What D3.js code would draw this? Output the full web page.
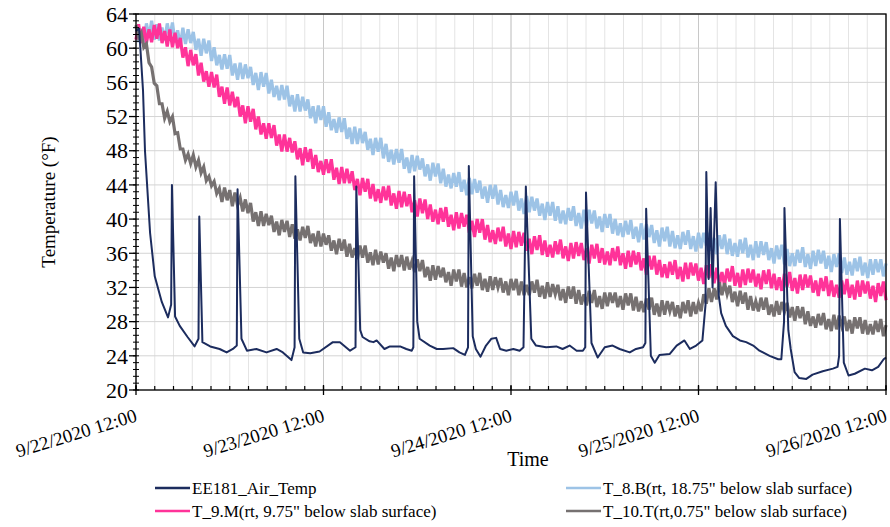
<!DOCTYPE html>
<html>
<head>
<meta charset="utf-8">
<script src="https://cdn.jsdelivr.net/npm/d3@7"></script>
<style>
  body { margin: 0; background: #fff; }
</style>
</head>
<body>
<svg id="chart" width="890" height="527"></svg>
<script>
// time axis: 9/22/2020 12:00 to 9/26/2020 12:00, probe series logged every 20 min
const startTime = new Date(2020, 8, 22, 12, 0);
const endTime = new Date(2020, 8, 26, 12, 0);
const stepMinutes = 20;

const yTicks = [20, 24, 28, 32, 36, 40, 44, 48, 52, 56, 60, 64];

const seriesNames = [
  "EE181_Air_Temp",
  "T_8.B(rt, 18.75\" below slab surface)",
  "T_9.M(rt, 9.75\" below slab surface)",
  "T_10.T(rt,0.75\" below slab surface)"
];

// T_8.B, 18.75" below slab
const t8b = [
  62.6,60.7,62.3,60.6,62.9,61.4,63.2,61.0,62.8,60.9,62.4,
  60.9,62.9,61.3,63.0,60.7,62.1,60.3,62.4,60.5,62.2,60.6,
  61.9,59.8,61.1,59.1,61.1,59.4,60.9,58.5,60.1,58.0,59.2,
  57.5,59.3,57.6,59.2,56.8,58.2,56.3,58.3,56.4,58.1,56.5,
  57.8,55.7,57.1,55.1,57.2,55.5,57.1,54.7,56.3,54.3,55.6,
  53.9,55.7,54.0,55.6,53.2,54.5,52.6,54.6,52.6,54.3,52.7,
  54.0,51.8,53.2,51.2,53.3,51.6,53.2,50.8,52.5,50.4,51.7,
  50.1,51.9,50.2,51.8,49.4,50.7,48.8,50.8,48.8,50.6,48.9,
  50.2,48.1,49.4,47.5,49.5,47.9,49.5,47.1,48.8,46.7,48.1,
  46.4,48.2,46.6,48.2,45.9,47.2,45.4,47.5,45.6,47.4,45.8,
  47.1,45.0,46.4,44.5,46.6,45.0,46.5,44.2,45.9,43.8,45.2,
  43.6,45.4,43.8,45.5,43.2,44.6,42.8,44.8,42.9,44.7,43.1,
  44.5,42.4,43.8,41.9,44.0,42.4,44.0,41.7,43.4,41.4,42.8,
  41.3,43.2,41.6,43.3,41.0,42.4,40.6,42.7,40.8,42.6,41.0,
  42.4,40.4,41.8,39.9,42.0,40.4,42.0,39.8,41.5,39.5,41.0,
  39.4,41.3,39.8,41.5,39.2,40.7,38.9,41.1,39.2,41.1,39.5,
  41.0,38.9,40.3,38.5,40.6,39.0,40.6,38.3,40.0,38.1,39.5,
  37.9,39.8,38.2,39.9,37.7,39.1,37.3,39.5,37.6,39.4,37.9,
  39.3,37.2,38.7,36.8,39.0,37.4,39.1,36.8,38.6,36.6,38.1,
  36.5,38.5,37.0,38.7,36.5,38.0,36.2,38.4,36.6,38.4,36.9,
  38.4,36.3,37.8,35.9,38.1,36.5,38.2,35.9,37.7,35.7,37.2,
  35.6,37.6,36.0,37.8,35.5,37.0,35.2,37.4,35.5,37.4,35.8,
  37.3,35.2,36.6,34.8,36.9,35.3,37.0,34.7,36.5,34.5,36.0,
  34.5,36.4,34.9,36.7,34.4,35.9,34.2,36.3,34.5,36.4,34.8,
  36.3,34.2,35.7,33.8,35.9,34.4,36.0,33.7,35.5,33.5,35.0,
  33.4,35.4,33.9,35.6,33.4,34.9,33.1,35.3,33.5,35.3,33.8,
  35.3,33.3,34.8
];

// T_9.M, 9.75" below slab
const t9m = [
  61.0,62.8,60.6,62.5,60.6,62.2,60.7,62.7,61.1,62.9,60.6,
  62.0,60.2,62.2,60.1,61.8,60.0,61.2,58.9,60.1,57.9,59.8,
  58.0,59.3,56.8,58.3,56.1,57.3,55.5,57.2,55.4,56.9,54.3,
  55.5,53.5,55.4,53.3,54.9,53.1,54.3,52.0,53.3,51.2,53.2,
  51.4,52.9,50.5,52.0,49.9,51.2,49.4,51.2,49.5,51.0,48.6,
  49.9,47.9,49.9,47.9,49.5,47.8,49.1,47.0,48.3,46.3,48.4,
  46.7,48.2,45.9,47.5,45.5,46.8,45.2,47.0,45.4,47.0,44.6,
  46.0,44.1,46.1,44.2,45.9,44.2,45.6,43.4,44.7,42.8,44.8,
  43.2,44.7,42.4,44.1,42.1,43.5,41.9,43.8,42.2,43.9,41.6,
  43.0,41.2,43.3,41.4,43.2,41.5,42.9,40.8,42.2,40.3,42.4,
  40.7,42.3,40.0,41.7,39.7,41.1,39.4,41.3,39.7,41.4,39.1,
  40.5,38.7,40.8,38.9,40.7,39.1,40.5,38.4,39.8,37.9,40.0,
  38.4,40.0,37.6,39.3,37.3,38.7,37.1,39.0,37.4,39.1,36.8,
  38.3,36.5,38.6,36.7,38.5,36.9,38.4,36.3,37.7,35.9,38.0,
  36.4,38.1,35.8,37.5,35.6,37.0,35.5,37.4,35.9,37.6,35.4,
  36.8,35.1,37.2,35.4,37.3,35.7,37.2,35.2,36.6,34.8,37.0,
  35.4,37.1,34.9,36.6,34.7,36.2,34.6,36.6,35.1,36.8,34.6,
  36.0,34.2,36.3,34.4,36.3,34.7,36.1,34.0,35.4,33.5,35.7,
  34.1,35.7,33.5,35.2,33.2,34.7,33.1,35.0,33.5,35.2,33.0,
  34.4,32.7,34.9,33.0,34.9,33.4,34.8,32.8,34.3,32.4,34.6,
  33.1,34.7,32.5,34.3,32.3,33.8,32.3,34.2,32.7,34.5,32.2,
  33.7,32.0,34.1,32.3,34.2,32.6,34.1,32.1,33.6,31.8,34.0,
  32.4,34.1,31.9,33.6,31.7,33.2,31.6,33.6,32.1,33.8,31.6,
  33.1,31.3,33.5,31.7,33.5,32.0,33.4,31.4,32.8,31.0,33.1,
  31.6,33.3,31.0,32.8,30.9,32.3,30.8,32.8,31.2,33.0,30.8,
  32.3,30.6,32.8,30.9,32.8,31.3,32.7,30.7,32.2,30.3,32.5,
  31.0,32.7,30.5
];

// T_10.T, 0.75" below slab
const t10t = [
  62.7,61.3,61.8,60.1,60.5,58.3,57.8,55.9,55.6,53.5,53.5,
  51.8,52.6,51.4,52.0,50.0,50.1,48.2,48.2,46.9,47.6,46.5,
  47.5,46.1,46.9,45.4,46.1,44.5,45.0,43.9,44.4,43.0,43.6,
  42.0,43.7,42.2,43.4,41.5,43.1,41.6,42.5,40.9,42.3,40.7,
  41.9,39.7,40.8,39.2,40.9,39.2,40.6,39.3,40.4,38.5,39.7,
  38.1,39.9,38.5,39.8,37.9,39.4,37.7,38.8,37.5,39.1,37.8,
  39.2,37.2,38.3,36.8,38.6,36.8,38.3,37.0,38.1,36.3,37.5,
  35.9,37.7,36.3,37.6,35.6,37.1,35.5,36.6,35.3,36.9,35.5,
  36.9,34.9,36.1,34.6,36.4,34.7,36.2,34.9,36.0,34.2,35.5,
  33.9,35.8,34.4,35.8,34.0,35.6,34.1,35.1,33.8,35.3,33.9,
  35.2,33.2,34.4,32.8,34.6,32.9,34.5,33.2,34.3,32.6,33.8,
  32.2,34.1,32.7,34.1,32.1,33.7,32.0,33.2,31.9,33.6,32.2,
  33.7,31.7,33.0,31.5,33.3,31.7,33.2,32.0,33.1,31.4,32.7,
  31.1,33.0,31.7,33.0,31.1,32.7,31.1,32.3,31.1,32.7,31.4,
  32.9,30.9,32.2,30.7,32.6,30.9,32.4,31.2,32.3,30.5,31.8,
  30.2,32.1,30.7,32.1,30.1,31.7,30.0,31.2,29.9,31.6,30.2,
  31.7,29.7,31.0,29.5,31.4,29.8,31.4,30.2,31.4,29.7,31.0,
  29.4,31.3,29.9,31.3,29.3,30.9,29.2,30.4,29.1,30.7,29.4,
  30.8,28.8,30.1,28.6,30.5,28.8,30.4,29.2,30.3,28.6,29.9,
  28.4,30.3,29.0,30.5,28.6,30.3,28.9,30.2,29.2,31.2,30.1,
  31.9,30.3,31.9,30.6,32.6,31.1,32.5,31.2,32.2,30.3,31.5,
  29.8,31.6,30.1,31.4,29.4,31.0,29.3,30.4,29.2,30.8,29.4,
  30.8,28.8,30.0,28.6,30.4,28.8,30.3,29.1,30.2,28.5,29.7,
  28.1,29.8,28.4,29.7,27.7,29.2,27.5,28.6,27.3,28.9,27.6,
  29.0,27.1,28.3,26.9,28.8,27.1,28.7,27.5,28.6,26.9,28.2,
  26.6,28.5,27.2,28.5,26.6,28.2,26.5,27.7,26.5,28.1,26.8,
  28.3,26.3,27.6
];

// EE181 air temperature: [hours after start, °F]
const airTemp = [
  [0,62.0],[0.4,62.3],[0.9,55],[1.15,48],[1.8,38.4],[2.4,33.3],[3.3,30.3],[4.1,28.5],[4.5,30],[4.6,44.0],
  [5.0,28.6],[5.6,27.5],[6.6,26.2],[7.5,25.1],[8.0,26],[8.1,40.3],[8.5,25.6],[9.5,25.1],[10.7,24.8],[11.6,24.4],
  [12.4,24.8],[12.9,25.2],[13.0,43.5],[13.5,26.0],[14.2,24.6],[15.4,24.8],[16.7,24.4],[18.0,24.8],[18.8,24.4],[19.9,23.5],
  [20.3,25],[20.4,45.0],[20.9,26.0],[21.4,24.4],[22.3,24.3],[23.5,24.5],[25.2,25.6],[26.1,25.6],[27.4,24.6],[28.1,25.0],
  [28.2,43.8],[28.7,27.0],[29.0,26.2],[29.9,25.7],[30.4,25.6],[30.8,25.8],[31.8,24.8],[32.5,25.1],[33.8,25.1],[34.6,24.8],
  [35.3,24.6],[35.5,25.0],[35.6,45.0],[36.0,28.0],[36.3,26.0],[37.6,25.2],[38.5,24.8],[39.3,24.8],[40.6,24.9],[41.4,24.4],
  [42.1,24.1],[42.5,25],[42.6,46.2],[43.1,26.3],[43.5,24.8],[44.1,23.9],[44.8,25.2],[45.5,26.0],[46.1,26.1],[46.6,24.8],
  [47.4,24.6],[48.3,24.8],[49.1,24.6],[49.6,25.0],[49.9,43.8],[50.6,26.0],[51.2,25.2],[52.5,25.0],[53.8,25.1],[54.6,24.8],
  [55.5,25.2],[56.4,24.6],[57.2,24.6],[57.5,25.0],[57.6,43.1],[58.3,25.5],[59.1,23.8],[60.0,25.0],[61.0,25.2],[61.9,24.8],
  [63.2,24.4],[64.0,24.8],[64.9,25.0],[65.2,25.5],[65.3,41.2],[65.9,24.0],[66.4,23.2],[67.0,24.1],[68.3,24.2],[69.2,25.2],
  [70.2,25.8],[70.9,24.8],[71.7,25.2],[72.5,25.8],[72.9,30],[73.0,45.5],[73.3,33],[73.55,41.3],[73.8,32],[74.2,44.3],
  [74.6,31],[74.9,29.0],[75.5,27.5],[76.4,26.3],[77.3,25.8],[78.1,25.6],[79.0,25.2],[79.8,24.6],[81.1,24.0],[82.2,23.6],
  [82.6,23.6],[82.95,28],[83.0,41.3],[83.5,27],[83.8,24.8],[84.3,22.1],[84.9,21.4],[85.8,21.3],[86.6,21.8],[87.9,22.2],
  [89.2,22.5],[89.8,22.7],[90.0,24],[90.1,40.0],[90.6,23.2],[91.2,21.7],[92.0,21.9],[93.3,22.5],[94.2,22.3],[95.0,22.7],
  [95.7,23.6],[96.0,23.8]
];

const colors = {
  air: "#1c2c5e",
  t8b: "#9dc3e6",
  t9m: "#ff3399",
  t10t: "#767171"
};

const serif = "Liberation Serif";

const svg = d3.select("#chart");
const plot = { left: 136, right: 886, top: 14, bottom: 390 };

const hoursToDate = (h) => new Date(startTime.getTime() + h * 3600 * 1000);
const stepToDate = (i) => new Date(startTime.getTime() + i * stepMinutes * 60 * 1000);

const x = d3.scaleTime().domain([startTime, endTime]).range([plot.left, plot.right]);
const y = d3.scaleLinear().domain([20, 64]).range([plot.bottom, plot.top]);

// grid: minor every 0.1 day, major every day
const minorX = d3.range(0, 96.001, 2.4).map(hoursToDate);
const majorX = d3.range(0, 96.001, 24).map(hoursToDate);

const grid = svg.append("g");
grid.selectAll("line.vminor").data(minorX).enter().append("line")
  .attr("x1", d => x(d)).attr("x2", d => x(d))
  .attr("y1", plot.top).attr("y2", plot.bottom)
  .attr("stroke", "#e4e4e4").attr("stroke-width", 1);
grid.selectAll("line.vmajor").data(majorX).enter().append("line")
  .attr("x1", d => x(d)).attr("x2", d => x(d))
  .attr("y1", plot.top).attr("y2", plot.bottom)
  .attr("stroke", "#c8c8c8").attr("stroke-width", 1);
grid.selectAll("line.h").data(yTicks).enter().append("line")
  .attr("x1", plot.left).attr("x2", plot.right)
  .attr("y1", d => y(d)).attr("y2", d => y(d))
  .attr("stroke", "#d4d4d4").attr("stroke-width", 1);

// series
const probeLine = (arr) => d3.line()
  .x((d, i) => x(stepToDate(i)))
  .y(d => y(d))(arr);

const lines = svg.append("g");
lines.append("path").attr("d", probeLine(t8b))
  .attr("fill", "none").attr("stroke", colors.t8b).attr("stroke-width", 3.2);
lines.append("path").attr("d", probeLine(t9m))
  .attr("fill", "none").attr("stroke", colors.t9m).attr("stroke-width", 3.2);
lines.append("path").attr("d", probeLine(t10t))
  .attr("fill", "none").attr("stroke", colors.t10t).attr("stroke-width", 3.2);
lines.append("path")
  .attr("d", d3.line().x(d => x(hoursToDate(d[0]))).y(d => y(d[1]))(airTemp))
  .attr("fill", "none").attr("stroke", colors.air).attr("stroke-width", 2).attr("stroke-linejoin", "round");

// frame
svg.append("rect")
  .attr("x", plot.left).attr("y", plot.top)
  .attr("width", plot.right - plot.left).attr("height", plot.bottom - plot.top)
  .attr("fill", "none").attr("stroke", "#000").attr("stroke-width", 1.3);

// y axis ticks
const yMinor = d3.range(20, 64.001, 0.8);
const axes = svg.append("g").attr("stroke", "#000");
axes.selectAll("line.ymin").data(yMinor).enter().append("line")
  .attr("x1", plot.left - 3).attr("x2", plot.left + 3)
  .attr("y1", d => y(d)).attr("y2", d => y(d)).attr("stroke-width", 1);
axes.selectAll("line.ymaj").data(yTicks).enter().append("line")
  .attr("x1", plot.left - 7).attr("x2", plot.left)
  .attr("y1", d => y(d)).attr("y2", d => y(d)).attr("stroke-width", 1.3);

// x axis ticks
axes.selectAll("line.xmin").data(minorX).enter().append("line")
  .attr("x1", d => x(d)).attr("x2", d => x(d))
  .attr("y1", plot.bottom - 4).attr("y2", plot.bottom).attr("stroke-width", 1.2);
axes.selectAll("line.xmaj").data(majorX).enter().append("line")
  .attr("x1", d => x(d)).attr("x2", d => x(d))
  .attr("y1", plot.bottom - 5).attr("y2", plot.bottom + 5).attr("stroke-width", 1.3);

// tick labels
svg.append("g").selectAll("text").data(yTicks).enter().append("text")
  .attr("x", plot.left - 8).attr("y", d => y(d))
  .attr("dy", "0.35em").attr("text-anchor", "end")
  .attr("font-family", serif).attr("font-size", 22)
  .text(d => d);

const fmt = d3.timeFormat("%-m/%-d/%Y %H:%M");
svg.append("g").selectAll("text").data(majorX).enter().append("text")
  .attr("transform", d => `translate(${x(d) + 2},${plot.bottom + 31}) rotate(-17)`)
  .attr("text-anchor", "end")
  .attr("font-family", serif).attr("font-size", 19)
  .text(d => fmt(d));

// axis titles
svg.append("text")
  .attr("transform", `translate(55,${(plot.top + plot.bottom) / 2}) rotate(-90)`)
  .attr("text-anchor", "middle")
  .attr("font-family", serif).attr("font-size", 19)
  .text("Temperature (°F)");
svg.append("text")
  .attr("x", 528).attr("y", 466)
  .attr("text-anchor", "middle")
  .attr("font-family", serif).attr("font-size", 20)
  .text("Time");

// legend
const legendItems = [
  { name: seriesNames[0], color: colors.air, lx: 155, ly: 488 },
  { name: seriesNames[1], color: colors.t8b, lx: 566, ly: 488 },
  { name: seriesNames[2], color: colors.t9m, lx: 155, ly: 511 },
  { name: seriesNames[3], color: colors.t10t, lx: 566, ly: 511 }
];
const legend = svg.append("g");
legend.selectAll("line").data(legendItems).enter().append("line")
  .attr("x1", d => d.lx).attr("x2", d => d.lx + 35)
  .attr("y1", d => d.ly).attr("y2", d => d.ly)
  .attr("stroke", d => d.color).attr("stroke-width", 2.4);
legend.selectAll("text").data(legendItems).enter().append("text")
  .attr("x", d => d.lx + 37).attr("y", d => d.ly)
  .attr("dy", "0.35em")
  .attr("font-family", serif).attr("font-size", 17)
  .text(d => d.name);
</script>
</body>
</html>
